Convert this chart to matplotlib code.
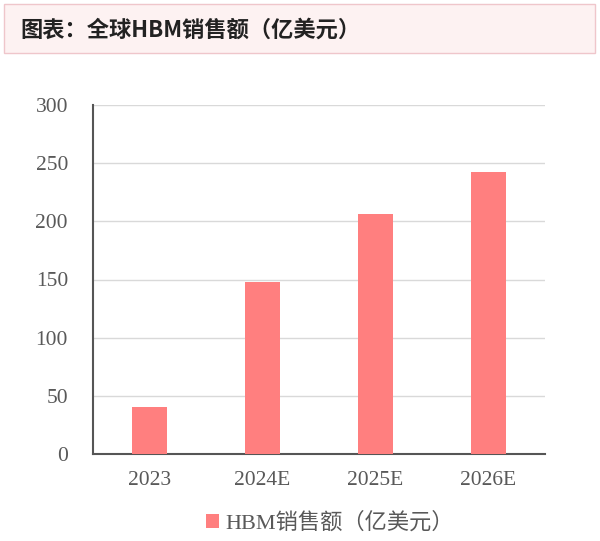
import matplotlib.pyplot as plt
from matplotlib.patches import Rectangle

categories = ["2023", "2024E", "2025E", "2026E"]
sales = [40, 148, 206, 242]  # HBM销售额（亿美元）
title = "图表：全球HBM销售额（亿美元）"
series_name = "HBM销售额（亿美元）"

fonts = ["Liberation Serif", "Noto Sans CJK SC", "DejaVu Sans"]
plt.rcParams["font.family"] = fonts

fig = plt.figure(figsize=(6, 5.41), dpi=100)

# title box on top
fig.patches.append(Rectangle((4 / 600, 1 - 53 / 541), 591 / 600, 49 / 541,
                             transform=fig.transFigure, facecolor="#fdf2f2",
                             edgecolor="#efc6cb", linewidth=1.0))
fig.text(20 / 600, 1 - 30 / 541, title, fontsize=16, fontweight="bold",
         color="#222222", va="center", ha="left",
         family=["Noto Sans CJK SC", "DejaVu Sans"])

ax = fig.add_axes([93 / 600, 1 - 454 / 541, 452 / 600, 349 / 541])
x = range(len(categories))
ax.bar(x, sales, width=0.31, color="#ff7f7f", label=series_name, zorder=3)

ax.set_xlim(-0.5, len(categories) - 0.5)
ax.set_ylim(0, 300)
ax.set_yticks(range(0, 301, 50))
ax.set_xticks(list(x))
ax.set_xticklabels(categories)
ax.grid(axis="y", color="#d9d9d9", linewidth=1.0, zorder=0)
ax.set_axisbelow(True)

for s in ["top", "right"]:
    ax.spines[s].set_visible(False)
for s in ["left", "bottom"]:
    ax.spines[s].set_color("#555555")
    ax.spines[s].set_linewidth(1.5)

ax.tick_params(axis="both", length=0, labelsize=15.5, labelcolor="#595959")
ax.tick_params(axis="y", pad=18)
ax.tick_params(axis="x", pad=12)

leg = ax.legend(loc="center", bbox_to_anchor=(330 / 600, 1 - 523 / 541),
                bbox_transform=fig.transFigure, frameon=False, fontsize=16,
                handlelength=0.6, handleheight=0.6, handletextpad=0.3)
for t in leg.get_texts():
    t.set_color("#595959")

fig.savefig("out.png", dpi=100)
